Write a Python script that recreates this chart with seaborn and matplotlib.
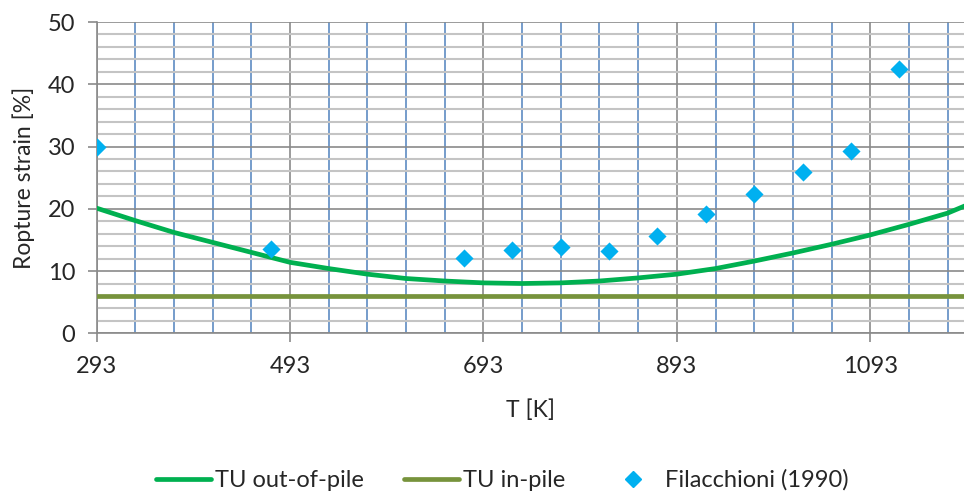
import numpy as np
import pandas as pd
import matplotlib
matplotlib.use("Agg")
import matplotlib.pyplot as plt
from matplotlib.ticker import FixedLocator, MultipleLocator
from matplotlib.lines import Line2D
import seaborn as sns

# TU correlations
temp_curve = [293, 333, 373, 413, 453, 493, 533, 573, 613, 653, 693, 733, 773,
              813, 853, 893, 933, 973, 1013, 1053, 1093, 1133, 1173, 1193]
tu_out_pile = [20.1, 18.1, 16.2, 14.6, 13.0, 11.4, 10.4, 9.5, 8.8, 8.4, 8.1, 8.0,
               8.1, 8.4, 8.9, 9.5, 10.4, 11.6, 12.9, 14.3, 15.8, 17.5, 19.3, 20.6]
tu_in_pile = [6.0] * len(temp_curve)

# Filacchioni (1990) measurements
temp_exp = [293, 473, 673, 723, 773, 823, 873, 923, 973, 1023, 1073, 1123]
strain_exp = [30.0, 13.5, 12.1, 13.4, 13.9, 13.3, 15.6, 19.1, 22.4, 25.9, 29.3, 42.5]

curves = pd.DataFrame({"T": temp_curve, "out": tu_out_pile, "in": tu_in_pile})
points = pd.DataFrame({"T": temp_exp, "strain": strain_exp})

sns.set_style("white")
plt.rcParams["font.family"] = ["Lato", "DejaVu Sans"]

c_out = "#00b050"
c_in = "#77933c"
c_pts = "#00b0f0"

fig = plt.figure(figsize=(9.64, 4.96), dpi=100)
ax = fig.add_axes([0.1003, 0.328, 0.8997, 0.6276])

sns.lineplot(data=curves, x="T", y="in", color=c_in, lw=3.4, ax=ax,
             zorder=3, estimator=None)
sns.lineplot(data=curves, x="T", y="out", color=c_out, lw=3.4, ax=ax,
             zorder=4, estimator=None)
sns.scatterplot(data=points, x="T", y="strain", color=c_pts, marker="D",
                s=85, linewidth=0, ax=ax, zorder=5)

ax.set_xlim(293, 1190)
ax.set_ylim(0, 50)
ax.xaxis.set_major_locator(FixedLocator(np.arange(293, 1200, 200)))
ax.xaxis.set_minor_locator(FixedLocator(np.arange(293, 1200, 40)))
ax.yaxis.set_major_locator(MultipleLocator(10))
ax.yaxis.set_minor_locator(MultipleLocator(2))

ax.grid(which="major", color="#8a8a8a", lw=1.2)
ax.grid(which="minor", axis="y", color="#c4c4c4", lw=1.5)
ax.grid(which="minor", axis="x", color="#4f81bd", lw=1.1)
ax.set_axisbelow(True)

for s in ["top", "right"]:
    ax.spines[s].set_visible(False)
for s in ["left", "bottom"]:
    ax.spines[s].set_color("#8a8a8a")
    ax.spines[s].set_linewidth(1.2)

ax.tick_params(which="major", length=6.3, width=1.2, color="#8a8a8a",
               labelsize=17, direction="out", left=True, bottom=True)
ax.tick_params(axis="y", pad=9)
ax.tick_params(axis="x", pad=10)
ax.tick_params(which="minor", length=0)

ax.set_xlabel("T [K]", fontsize=16.5, labelpad=16)
ax.set_ylabel("Ropture strain [%]", fontsize=16.5, labelpad=9)

handles = [
    Line2D([], [], color=c_out, lw=3.4),
    Line2D([], [], color=c_in, lw=3.4),
    Line2D([], [], color=c_pts, marker="D", markersize=8, lw=0),
]
fig.legend(handles, ["TU out-of-pile", "TU in-pile", "Filacchioni (1990)"],
           loc="center", bbox_to_anchor=(0.521, 0.032), ncol=3, frameon=False,
           fontsize=17, handlelength=2.33, handletextpad=0.17,
           columnspacing=1.7, borderpad=0)

fig.savefig("out.png", dpi=100)
